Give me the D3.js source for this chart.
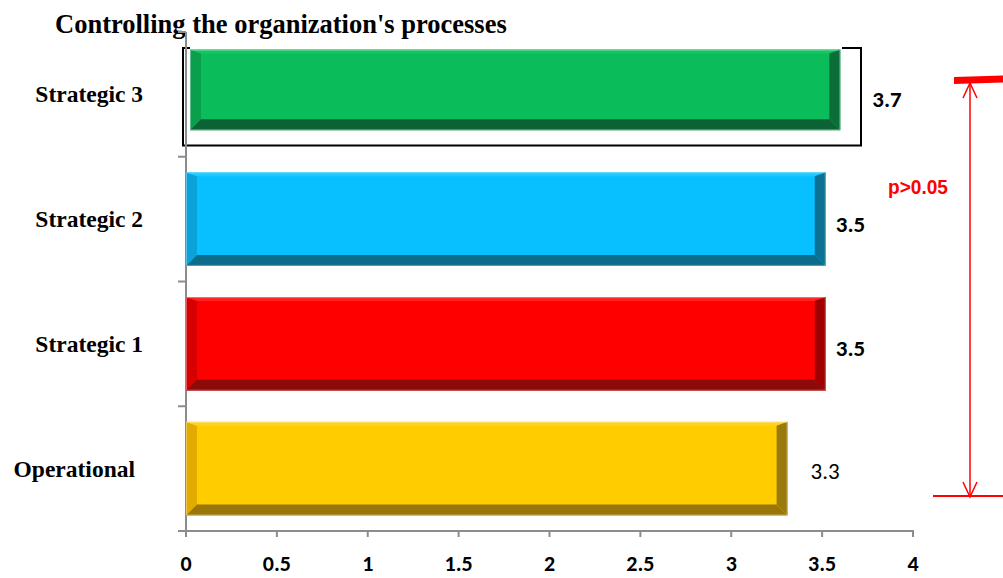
<!DOCTYPE html>
<html>
<head>
<meta charset="utf-8">
<script src="https://cdn.jsdelivr.net/npm/d3@7"></script>
<style>
  body { margin: 0; background: #fff; }
  svg { display: block; }
</style>
</head>
<body>
<div id="chart"></div>
<script>
// data
var categories = ["Operational", "Strategic 1", "Strategic 2", "Strategic 3"]
var barValues = [3.31, 3.52, 3.52, 3.6]
var valueLabels = ["3.3", "3.5", "3.5", "3.7"]
var xTicks = [0, 0.5, 1, 1.5, 2, 2.5, 3, 3.5, 4]

// colours: face, left bevel, bottom bevel, right bevel, top bevel
var palettes = [
  {face: "#ffcc00", left: "#e2ab00", bottom: "#9a760a", right: "#9a7a0c", top: "#ffd21e"},
  {face: "#ff0000", left: "#d60000", bottom: "#8c0a0a", right: "#a00000", top: "#ff2020"},
  {face: "#08bfff", left: "#0aa2d8", bottom: "#0c6c8c", right: "#0c7294", top: "#22c6ff"},
  {face: "#0bbd5a", left: "#0a9f4c", bottom: "#0b6334", right: "#0b6e39", top: "#16c462"}
]

const W = 1003, H = 578
const plot = {left: 186, right: 913, top: 32, bottom: 531}
const serif = "'Liberation Serif', 'Times New Roman', serif"
const sans = "Carlito, Calibri, Lato, sans-serif"

var svg = d3.select("#chart").append("svg")
  .attr("width", W)
  .attr("height", H)

// Title
svg.append("text")
  .attr("x", 55)
  .attr("y", 33)
  .attr("font-family", serif)
  .attr("font-weight", "bold")
  .attr("font-size", 26.5)
  .text("Controlling the organization's processes")

var x = d3.scaleLinear().domain([0, 4]).range([plot.left, plot.right])
var y = d3.scaleBand()
  .domain(categories.slice().reverse())
  .range([plot.top, plot.bottom])
  .paddingInner(0.25)
  .paddingOuter(0.125)

// selection bracket around the top bar
var sel = 3
var sy = y(categories[sel])
svg.append("path")
  .attr("d", "M190," + (sy + 0.5) + "H183V" + (sy + 98) + "H861V" + (sy + 0.5) + "H842")
  .attr("fill", "none")
  .attr("stroke", "#000")
  .attr("stroke-width", 2)

// axes
var axisColor = "#8c8c8c"
svg.append("line")
  .attr("x1", plot.left).attr("x2", plot.left)
  .attr("y1", plot.top).attr("y2", plot.bottom + 6)
  .attr("stroke", axisColor).attr("stroke-width", 2)
svg.append("line")
  .attr("x1", plot.left - 8).attr("x2", plot.right + 1)
  .attr("y1", plot.bottom).attr("y2", plot.bottom)
  .attr("stroke", axisColor).attr("stroke-width", 2)

// y ticks at band boundaries
var yTicks = d3.range(categories.length + 1).map(i => plot.top + i * (plot.bottom - plot.top) / categories.length)
svg.selectAll(".ytick")
  .data(yTicks)
  .enter()
  .append("line")
  .attr("x1", plot.left - 8).attr("x2", plot.left)
  .attr("y1", d => d).attr("y2", d => d)
  .attr("stroke", axisColor).attr("stroke-width", 2)

svg.selectAll(".xtick")
  .data(xTicks)
  .enter()
  .append("line")
  .attr("x1", d => x(d)).attr("x2", d => x(d))
  .attr("y1", plot.bottom).attr("y2", plot.bottom + 6)
  .attr("stroke", axisColor).attr("stroke-width", 2)

svg.selectAll(".xlabel")
  .data(xTicks)
  .enter()
  .append("text")
  .attr("x", d => x(d))
  .attr("y", 571)
  .attr("text-anchor", "middle")
  .attr("font-family", sans)
  .attr("font-weight", "bold")
  .attr("font-size", 22)
  .text(d => d)

// Bars with bevel
var bev = 11
categories.forEach(function(c, i) {
  var p = palettes[i]
  var x0 = x(0), x1 = x(barValues[i])
  var y0 = y(c), y1 = y(c) + y.bandwidth()
  if (i == sel) { x0 += 4; y0 += 2; y1 -= 11 }
  var g = svg.append("g")
  g.append("rect")
    .attr("x", x0).attr("y", y0)
    .attr("width", x1 - x0).attr("height", y1 - y0)
    .attr("fill", p.face)
  g.append("path")
    .attr("d", `M${x0},${y0}L${x0 + bev},${y0 + 4}V${y1 - bev}L${x0},${y1}Z`)
    .attr("fill", p.left)
  g.append("path")
    .attr("d", `M${x0},${y0}L${x1},${y0}L${x1 - bev},${y0 + 4}L${x0 + bev},${y0 + 4}Z`)
    .attr("fill", p.top)
  g.append("path")
    .attr("d", `M${x0},${y1}L${x0 + bev},${y1 - bev}H${x1 - bev}L${x1},${y1}Z`)
    .attr("fill", p.bottom)
  g.append("path")
    .attr("d", `M${x1},${y0}L${x1},${y1}L${x1 - bev},${y1 - bev}V${y0 + 4}Z`)
    .attr("fill", p.right)
  g.append("rect")
    .attr("x", x0 + 0.5).attr("y", y0 + 0.5)
    .attr("width", x1 - x0 - 1).attr("height", y1 - y0 - 1)
    .attr("fill", "none")
    .attr("stroke", "#fff").attr("stroke-opacity", 0.35)
})

// category labels
svg.selectAll(".cat")
  .data(categories)
  .enter()
  .append("text")
  .attr("x", 143)
  .attr("y", d => y(d) + y.bandwidth() / 2 + 8)
  .attr("dx", (d, i) => i == 0 ? -8 : 0)
  .attr("text-anchor", "end")
  .attr("font-family", serif)
  .attr("font-weight", "bold")
  .attr("font-size", 23.5)
  .text(d => d)

// value labels
var labelOffsets = [23, 10, 10, 32]
svg.selectAll(".val")
  .data(categories)
  .enter()
  .append("text")
  .attr("x", (d, i) => x(barValues[i]) + labelOffsets[i])
  .attr("y", (d, i) => y(d) + y.bandwidth() / 2 + (i == 0 ? 10 : 12.5))
  .attr("font-family", sans)
  .attr("font-weight", (d, i) => i == 0 ? "normal" : "bold")
  .attr("font-size", 23)
  .attr("fill", "#000")
  .text((d, i) => valueLabels[i])

// significance annotation
var red = "#ff0000"
svg.append("path")
  .attr("d", "M954,77L1003,75.5V82.5L954,84Z")
  .attr("fill", red)
svg.append("line")
  .attr("x1", 970).attr("x2", 970).attr("y1", 83).attr("y2", 497)
  .attr("stroke", red).attr("stroke-width", 1.5)
svg.append("path")
  .attr("d", "M963,98L970,83L977,98M963,482L970,497L977,482")
  .attr("fill", "none").attr("stroke", red).attr("stroke-width", 1.5)
svg.append("line")
  .attr("x1", 933).attr("x2", 1003).attr("y1", 496).attr("y2", 496)
  .attr("stroke", red).attr("stroke-width", 2)
svg.append("text")
  .attr("x", 888)
  .attr("y", 194)
  .attr("font-family", "'Liberation Sans Narrow', 'Liberation Sans', Arial, sans-serif")
  .attr("font-weight", "bold")
  .attr("font-size", 20)
  .attr("textLength", 60)
  .attr("lengthAdjust", "spacingAndGlyphs")
  .attr("fill", red)
  .text("p>0.05")
</script>
</body>
</html>
